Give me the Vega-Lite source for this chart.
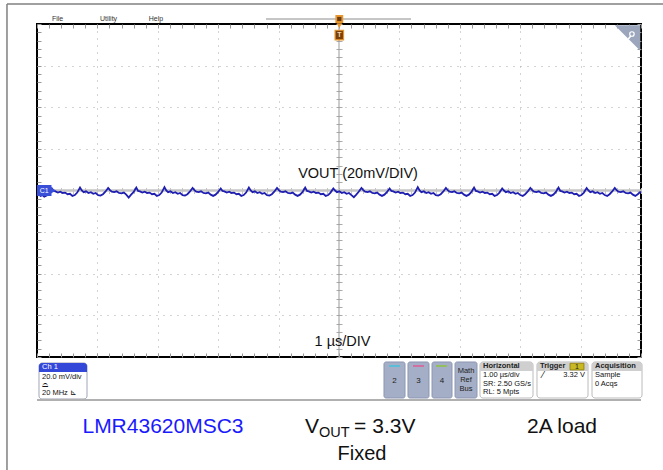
{
"$schema": "https://vega.github.io/schema/vega-lite/v6.json",
"width": 604, "height": 333,
"autosize": {"type": "none"},
"padding": {"left": 37, "top": 24, "right": 22, "bottom": 113},
"background": "white",
"config": {"view": {"stroke": "#000", "strokeWidth": 2}, "text": {"font": "Liberation Sans"}},
"data": {"values": [{}]},
"datasets": {"trace": [
{"t":-5.0,"v":-0.12},{"t":-4.97,"v":-0.09},{"t":-4.94,"v":-0.13},{"t":-4.91,"v":-0.11},{"t":-4.88,"v":-0.15},{"t":-4.84,"v":-0.12},{"t":-4.8,"v":-0.06},
{"t":-4.754,"v":0.05},{"t":-4.724,"v":-0.01},{"t":-4.694,"v":-0.02},{"t":-4.654,"v":-0.05},{"t":-4.614,"v":-0.03},{"t":-4.574,"v":-0.06},{"t":-4.534,"v":-0.05},{"t":-4.494,"v":-0.09},{"t":-4.454,"v":-0.08},{"t":-4.414,"v":-0.13},{"t":-4.374,"v":-0.11},{"t":-4.334,"v":-0.05},
{"t":-4.288,"v":0.07},{"t":-4.258,"v":0.00},{"t":-4.228,"v":-0.04},{"t":-4.188,"v":-0.02},{"t":-4.148,"v":-0.06},{"t":-4.108,"v":-0.04},{"t":-4.068,"v":-0.08},{"t":-4.028,"v":-0.06},{"t":-3.988,"v":-0.11},{"t":-3.948,"v":-0.12},{"t":-3.908,"v":-0.09},{"t":-3.868,"v":-0.03},
{"t":-3.822,"v":0.06},{"t":-3.792,"v":0.01},{"t":-3.762,"v":-0.03},{"t":-3.722,"v":-0.04},{"t":-3.682,"v":-0.02},{"t":-3.642,"v":-0.06},{"t":-3.602,"v":-0.07},{"t":-3.562,"v":-0.05},{"t":-3.522,"v":-0.10},{"t":-3.482,"v":-0.17},{"t":-3.442,"v":-0.10},{"t":-3.402,"v":-0.04},
{"t":-3.356,"v":0.07},{"t":-3.326,"v":-0.01},{"t":-3.296,"v":-0.02},{"t":-3.256,"v":-0.05},{"t":-3.216,"v":-0.03},{"t":-3.176,"v":-0.06},{"t":-3.136,"v":-0.05},{"t":-3.096,"v":-0.09},{"t":-3.056,"v":-0.08},{"t":-3.016,"v":-0.13},{"t":-2.976,"v":-0.11},{"t":-2.936,"v":-0.05},
{"t":-2.89,"v":0.08},{"t":-2.86,"v":0.00},{"t":-2.83,"v":-0.04},{"t":-2.79,"v":-0.02},{"t":-2.75,"v":-0.06},{"t":-2.71,"v":-0.04},{"t":-2.67,"v":-0.08},{"t":-2.63,"v":-0.06},{"t":-2.59,"v":-0.11},{"t":-2.55,"v":-0.12},{"t":-2.51,"v":-0.09},{"t":-2.47,"v":-0.03},
{"t":-2.424,"v":0.06},{"t":-2.394,"v":0.01},{"t":-2.364,"v":-0.03},{"t":-2.324,"v":-0.04},{"t":-2.284,"v":-0.02},{"t":-2.244,"v":-0.06},{"t":-2.204,"v":-0.07},{"t":-2.164,"v":-0.05},{"t":-2.124,"v":-0.10},{"t":-2.084,"v":-0.13},{"t":-2.044,"v":-0.10},{"t":-2.004,"v":-0.04},
{"t":-1.958,"v":0.05},{"t":-1.928,"v":-0.01},{"t":-1.898,"v":-0.02},{"t":-1.858,"v":-0.05},{"t":-1.818,"v":-0.03},{"t":-1.778,"v":-0.06},{"t":-1.738,"v":-0.05},{"t":-1.698,"v":-0.09},{"t":-1.658,"v":-0.08},{"t":-1.618,"v":-0.13},{"t":-1.578,"v":-0.11},{"t":-1.538,"v":-0.05},
{"t":-1.492,"v":0.07},{"t":-1.462,"v":0.00},{"t":-1.432,"v":-0.04},{"t":-1.392,"v":-0.02},{"t":-1.352,"v":-0.06},{"t":-1.312,"v":-0.04},{"t":-1.272,"v":-0.08},{"t":-1.232,"v":-0.06},{"t":-1.192,"v":-0.11},{"t":-1.152,"v":-0.12},{"t":-1.112,"v":-0.09},{"t":-1.072,"v":-0.03},
{"t":-1.026,"v":0.06},{"t":-0.996,"v":0.01},{"t":-0.966,"v":-0.03},{"t":-0.926,"v":-0.04},{"t":-0.886,"v":-0.02},{"t":-0.846,"v":-0.06},{"t":-0.806,"v":-0.07},{"t":-0.766,"v":-0.05},{"t":-0.726,"v":-0.10},{"t":-0.686,"v":-0.13},{"t":-0.646,"v":-0.10},{"t":-0.606,"v":-0.04},
{"t":-0.56,"v":0.07},{"t":-0.53,"v":-0.01},{"t":-0.5,"v":-0.02},{"t":-0.46,"v":-0.05},{"t":-0.42,"v":-0.03},{"t":-0.38,"v":-0.06},{"t":-0.34,"v":-0.05},{"t":-0.3,"v":-0.09},{"t":-0.26,"v":-0.08},{"t":-0.22,"v":-0.13},{"t":-0.18,"v":-0.11},{"t":-0.14,"v":-0.05},
{"t":-0.094,"v":0.05},{"t":-0.064,"v":0.00},{"t":-0.034,"v":-0.04},{"t":0.006,"v":-0.02},{"t":0.046,"v":-0.06},{"t":0.086,"v":-0.04},{"t":0.126,"v":-0.08},{"t":0.166,"v":-0.06},{"t":0.206,"v":-0.11},{"t":0.246,"v":-0.16},{"t":0.286,"v":-0.10},{"t":0.326,"v":-0.03},
{"t":0.372,"v":0.06},{"t":0.402,"v":0.01},{"t":0.432,"v":-0.03},{"t":0.472,"v":-0.04},{"t":0.512,"v":-0.02},{"t":0.552,"v":-0.06},{"t":0.592,"v":-0.07},{"t":0.632,"v":-0.05},{"t":0.672,"v":-0.10},{"t":0.712,"v":-0.13},{"t":0.752,"v":-0.10},{"t":0.792,"v":-0.04},
{"t":0.838,"v":0.05},{"t":0.868,"v":-0.01},{"t":0.898,"v":-0.02},{"t":0.938,"v":-0.05},{"t":0.978,"v":-0.03},{"t":1.018,"v":-0.06},{"t":1.058,"v":-0.05},{"t":1.098,"v":-0.09},{"t":1.138,"v":-0.08},{"t":1.178,"v":-0.13},{"t":1.218,"v":-0.11},{"t":1.258,"v":-0.05},
{"t":1.304,"v":0.08},{"t":1.334,"v":0.00},{"t":1.364,"v":-0.04},{"t":1.404,"v":-0.02},{"t":1.444,"v":-0.06},{"t":1.484,"v":-0.04},{"t":1.524,"v":-0.08},{"t":1.564,"v":-0.06},{"t":1.604,"v":-0.11},{"t":1.644,"v":-0.12},{"t":1.684,"v":-0.09},{"t":1.724,"v":-0.03},
{"t":1.77,"v":0.06},{"t":1.8,"v":0.01},{"t":1.83,"v":-0.03},{"t":1.87,"v":-0.04},{"t":1.91,"v":-0.02},{"t":1.95,"v":-0.06},{"t":1.99,"v":-0.07},{"t":2.03,"v":-0.05},{"t":2.07,"v":-0.10},{"t":2.11,"v":-0.13},{"t":2.15,"v":-0.10},{"t":2.19,"v":-0.04},
{"t":2.236,"v":0.07},{"t":2.266,"v":-0.01},{"t":2.296,"v":-0.02},{"t":2.336,"v":-0.05},{"t":2.376,"v":-0.03},{"t":2.416,"v":-0.06},{"t":2.456,"v":-0.05},{"t":2.496,"v":-0.09},{"t":2.536,"v":-0.08},{"t":2.576,"v":-0.13},{"t":2.616,"v":-0.11},{"t":2.656,"v":-0.05},
{"t":2.702,"v":0.05},{"t":2.732,"v":0.00},{"t":2.762,"v":-0.04},{"t":2.802,"v":-0.02},{"t":2.842,"v":-0.06},{"t":2.882,"v":-0.04},{"t":2.922,"v":-0.08},{"t":2.962,"v":-0.06},{"t":3.002,"v":-0.11},{"t":3.042,"v":-0.13},{"t":3.082,"v":-0.09},{"t":3.122,"v":-0.03},
{"t":3.168,"v":0.06},{"t":3.198,"v":0.01},{"t":3.228,"v":-0.03},{"t":3.268,"v":-0.04},{"t":3.308,"v":-0.02},{"t":3.348,"v":-0.06},{"t":3.388,"v":-0.07},{"t":3.428,"v":-0.05},{"t":3.468,"v":-0.10},{"t":3.508,"v":-0.13},{"t":3.548,"v":-0.10},{"t":3.588,"v":-0.04},
{"t":3.634,"v":0.07},{"t":3.664,"v":-0.01},{"t":3.694,"v":-0.02},{"t":3.734,"v":-0.05},{"t":3.774,"v":-0.03},{"t":3.814,"v":-0.06},{"t":3.854,"v":-0.05},{"t":3.894,"v":-0.09},{"t":3.934,"v":-0.08},{"t":3.974,"v":-0.13},{"t":4.014,"v":-0.11},{"t":4.054,"v":-0.05},
{"t":4.1,"v":0.06},{"t":4.13,"v":0.00},{"t":4.16,"v":-0.04},{"t":4.2,"v":-0.02},{"t":4.24,"v":-0.06},{"t":4.28,"v":-0.04},{"t":4.32,"v":-0.08},{"t":4.36,"v":-0.06},{"t":4.4,"v":-0.11},{"t":4.44,"v":-0.13},{"t":4.48,"v":-0.09},{"t":4.52,"v":-0.03},
{"t":4.566,"v":0.06},{"t":4.596,"v":0.01},{"t":4.626,"v":-0.03},{"t":4.666,"v":-0.04},{"t":4.706,"v":-0.02},{"t":4.746,"v":-0.06},{"t":4.786,"v":-0.07},{"t":4.826,"v":-0.05},{"t":4.866,"v":-0.10},{"t":4.906,"v":-0.13},{"t":4.946,"v":-0.09},{"t":4.976,"v":-0.05},{"t":5.0,"v":-0.03}
]},
"resolve": {"axis": {"x": "independent", "y": "independent"}},
"layer": [
{"mark": {"type": "rule", "color": "#808080", "strokeWidth": 1.5}, "encoding": {"x": {"datum": -5.497, "type": "quantitative", "axis": null}, "y": {"datum": 4.48, "type": "quantitative", "axis": null}, "y2": {"datum": -6.72}}},
{"mark": {"type": "rule", "color": "#808080", "strokeWidth": 1.5}, "encoding": {"x": {"datum": -5.497, "type": "quantitative", "axis": null}, "x2": {"datum": 5.37}, "y": {"datum": 4.48, "type": "quantitative", "axis": null}}},

{"mark": {"type": "rule", "color": "#999999", "strokeWidth": 1},
 "encoding": {
  "x": {"datum": 0, "type": "quantitative", "scale": {"domain": [-5, 5], "nice": false, "zero": false},
        "axis": {"orient": "top", "values": [-5,-4.8,-4.6,-4.4,-4.2,-4,-3.8,-3.6,-3.4,-3.2,-3,-2.8,-2.6,-2.4,-2.2,-2,-1.8,-1.6,-1.4,-1.2,-1,-0.8,-0.6,-0.4,-0.2,0,0.2,0.4,0.6,0.8,1,1.2,1.4,1.6,1.8,2,2.2,2.4,2.6,2.8,3,3.2,3.4,3.6,3.8,4,4.2,4.4,4.6,4.8,5], "grid": false, "ticks": true, "tickSize": -4, "tickColor": "#999", "labels": false, "domain": false, "title": null}},
  "y": {"datum": -4, "type": "quantitative", "scale": {"domain": [-4, 4], "nice": false, "zero": false},
        "axis": {"orient": "right", "values": [-4,-3.8,-3.6,-3.4,-3.2,-3,-2.8,-2.6,-2.4,-2.2,-2,-1.8,-1.6,-1.4,-1.2,-1,-0.8,-0.6,-0.4,-0.2,0,0.2,0.4,0.6,0.8,1,1.2,1.4,1.6,1.8,2,2.2,2.4,2.6,2.8,3,3.2,3.4,3.6,3.8,4], "grid": false, "ticks": true, "tickSize": -4, "tickColor": "#999", "labels": false, "domain": false, "title": null}},
  "y2": {"datum": 4}}},

{"mark": {"type": "rule", "color": "#c4c4c4", "strokeWidth": 2.5},
 "encoding": {
  "x": {"datum": -5, "type": "quantitative", "scale": {"domain": [-5, 5], "nice": false, "zero": false},
        "axis": {"orient": "bottom", "offset": -169.5, "values": [-5,-4.8,-4.6,-4.4,-4.2,-4,-3.8,-3.6,-3.4,-3.2,-3,-2.8,-2.6,-2.4,-2.2,-2,-1.8,-1.6,-1.4,-1.2,-1,-0.8,-0.6,-0.4,-0.2,0,0.2,0.4,0.6,0.8,1,1.2,1.4,1.6,1.8,2,2.2,2.4,2.6,2.8,3,3.2,3.4,3.6,3.8,4,4.2,4.4,4.6,4.8,5], "grid": false, "ticks": true, "tickSize": 6, "tickColor": "#c4c4c4", "labels": false, "domain": false, "title": null}},
  "x2": {"datum": 5},
  "y": {"datum": 0, "type": "quantitative", "scale": {"domain": [-4, 4], "nice": false, "zero": false},
        "axis": {"orient": "left", "offset": -305, "values": [-4,-3.8,-3.6,-3.4,-3.2,-3,-2.8,-2.6,-2.4,-2.2,-2,-1.8,-1.6,-1.4,-1.2,-1,-0.8,-0.6,-0.4,-0.2,0,0.2,0.4,0.6,0.8,1,1.2,1.4,1.6,1.8,2,2.2,2.4,2.6,2.8,3,3.2,3.4,3.6,3.8,4], "grid": false, "ticks": true, "tickSize": 6, "tickColor": "#aaa", "labels": false, "domain": false, "title": null}}}},

{"data": {"name": "trace"},
 "mark": {"type": "line", "color": "#1e1eb0", "strokeWidth": 1.8, "interpolate": "linear"},
 "encoding": {
  "x": {"field": "t", "type": "quantitative", "scale": {"domain": [-5, 5], "nice": false, "zero": false},
        "axis": {"orient": "bottom", "values": [-5,-4.8,-4.6,-4.4,-4.2,-4,-3.8,-3.6,-3.4,-3.2,-3,-2.8,-2.6,-2.4,-2.2,-2,-1.8,-1.6,-1.4,-1.2,-1,-0.8,-0.6,-0.4,-0.2,0,0.2,0.4,0.6,0.8,1,1.2,1.4,1.6,1.8,2,2.2,2.4,2.6,2.8,3,3.2,3.4,3.6,3.8,4,4.2,4.4,4.6,4.8,5], "grid": true, "gridDash": [1, 6], "gridColor": "#a8a8a8", "gridOpacity": {"condition": {"test": "abs(datum.value - round(datum.value)) > 0.01 || abs(datum.value) > 4.99 || abs(datum.value) < 0.01", "value": 0}, "value": 1}, "ticks": true, "tickSize": -4, "tickColor": "#999", "labels": false, "domain": false, "title": null}},
  "y": {"field": "v", "type": "quantitative", "scale": {"domain": [-4, 4], "nice": false, "zero": false},
        "axis": {"orient": "left", "values": [-4,-3.8,-3.6,-3.4,-3.2,-3,-2.8,-2.6,-2.4,-2.2,-2,-1.8,-1.6,-1.4,-1.2,-1,-0.8,-0.6,-0.4,-0.2,0,0.2,0.4,0.6,0.8,1,1.2,1.4,1.6,1.8,2,2.2,2.4,2.6,2.8,3,3.2,3.4,3.6,3.8,4], "grid": true, "gridDash": [1, 6], "gridColor": "#a8a8a8", "gridOpacity": {"condition": {"test": "abs(datum.value - round(datum.value)) > 0.01 || abs(datum.value) > 3.99 || abs(datum.value) < 0.01", "value": 0}, "value": 1}, "ticks": true, "tickSize": -4, "tickColor": "#999", "labels": false, "domain": false, "title": null}}}},

{"mark": {"type": "text", "text": "File", "fontSize": 7, "align": "left", "baseline": "middle", "color": "#333"}, "encoding": {"x": {"datum": -4.752, "type": "quantitative", "axis": null}, "y": {"datum": 4.13, "type": "quantitative", "axis": null}}},
{"mark": {"type": "text", "text": "Utility", "fontSize": 7, "align": "left", "baseline": "middle", "color": "#333"}, "encoding": {"x": {"datum": -3.957, "type": "quantitative", "axis": null}, "y": {"datum": 4.13, "type": "quantitative", "axis": null}}},
{"mark": {"type": "text", "text": "Help", "fontSize": 7, "align": "left", "baseline": "middle", "color": "#333"}, "encoding": {"x": {"datum": -3.15, "type": "quantitative", "axis": null}, "y": {"datum": 4.13, "type": "quantitative", "axis": null}}},
{"mark": {"type": "rule", "color": "#8c8c8c", "strokeWidth": 1}, "encoding": {"x": {"datum": -1.209, "type": "quantitative", "axis": null}, "x2": {"datum": 1.192}, "y": {"datum": 4.12, "type": "quantitative", "axis": null}}},

{"mark": {"type": "rect", "color": "#e8962e"}, "encoding": {"x": {"datum": -0.06, "type": "quantitative", "axis": null}, "x2": {"datum": 0.07}, "y": {"datum": 4.216, "type": "quantitative", "axis": null}, "y2": {"datum": 4.024}}},
{"mark": {"type": "rect", "color": "#6b3a10"}, "encoding": {"x": {"datum": -0.03, "type": "quantitative", "axis": null}, "x2": {"datum": 0.04}, "y": {"datum": 4.17, "type": "quantitative", "axis": null}, "y2": {"datum": 4.07}}},
{"mark": {"type": "point", "shape": "triangle-down", "filled": true, "color": "#e8962e", "size": 30, "opacity": 1}, "encoding": {"x": {"datum": 0.005, "type": "quantitative", "axis": null}, "y": {"datum": 3.96, "type": "quantitative", "axis": null}}},
{"mark": {"type": "rect", "fill": "#7a3f0a", "stroke": "#e8962e", "strokeWidth": 1.2}, "encoding": {"x": {"datum": -0.065, "type": "quantitative", "axis": null}, "x2": {"datum": 0.075}, "y": {"datum": 3.85, "type": "quantitative", "axis": null}, "y2": {"datum": 3.62}}},
{"mark": {"type": "text", "text": "T", "fontSize": 7, "fontWeight": "bold", "align": "center", "baseline": "middle", "color": "#f3d9b0"}, "encoding": {"x": {"datum": 0.005, "type": "quantitative", "axis": null}, "y": {"datum": 3.735, "type": "quantitative", "axis": null}}},

{"mark": {"type": "point", "shape": "M-1,-1L1,-1L1,1Z", "filled": true, "color": "#9ba6bd", "size": 650, "opacity": 1}, "encoding": {"x": {"datum": 4.777, "type": "quantitative", "axis": null}, "y": {"datum": 3.664, "type": "quantitative", "axis": null}}},
{"mark": {"type": "point", "shape": "circle", "filled": false, "color": "white", "strokeWidth": 1.2, "size": 20, "opacity": 1}, "encoding": {"x": {"datum": 4.85, "type": "quantitative", "axis": null}, "y": {"datum": 3.76, "type": "quantitative", "axis": null}}},
{"mark": {"type": "rule", "color": "white", "strokeWidth": 1.5}, "encoding": {"x": {"datum": 4.83, "type": "quantitative", "axis": null}, "x2": {"datum": 4.79}, "y": {"datum": 3.71, "type": "quantitative", "axis": null}, "y2": {"datum": 3.64}}},

{"mark": {"type": "rect", "color": "#3a4fd8"}, "encoding": {"x": {"datum": -5, "type": "quantitative", "axis": null}, "x2": {"datum": -4.76}, "y": {"datum": 0.132, "type": "quantitative", "axis": null}, "y2": {"datum": -0.132}}},
{"mark": {"type": "point", "shape": "triangle-right", "filled": true, "color": "#3a4fd8", "size": 40, "opacity": 1}, "encoding": {"x": {"datum": -4.73, "type": "quantitative", "axis": null}, "y": {"datum": 0, "type": "quantitative", "axis": null}}},
{"mark": {"type": "text", "text": "C1", "fontSize": 7, "align": "center", "baseline": "middle", "color": "white"}, "encoding": {"x": {"datum": -4.88, "type": "quantitative", "axis": null}, "y": {"datum": 0, "type": "quantitative", "axis": null}}},

{"mark": {"type": "text", "text": "VOUT (20mV/DIV)", "fontSize": 14.5, "align": "center", "baseline": "alphabetic", "color": "#111"}, "encoding": {"x": {"datum": 0.315, "type": "quantitative", "axis": null}, "y": {"datum": 0.30, "type": "quantitative", "axis": null}}},
{"mark": {"type": "text", "text": "1 µs/DIV", "fontSize": 14.5, "align": "center", "baseline": "alphabetic", "color": "#111"}, "encoding": {"x": {"datum": 0.058, "type": "quantitative", "axis": null}, "y": {"datum": -3.736, "type": "quantitative", "axis": null}}},

{"mark": {"type": "rect", "fill": "white", "stroke": "#a0a6b8", "cornerRadius": 3}, "encoding": {"x": {"datum": -4.967, "type": "quantitative", "axis": null}, "x2": {"datum": -4.172}, "y": {"datum": -4.144, "type": "quantitative", "axis": null}, "y2": {"datum": -5.009}}},
{"mark": {"type": "rect", "fill": "#3348d8", "cornerRadiusTopLeft": 3, "cornerRadiusTopRight": 3}, "encoding": {"x": {"datum": -4.967, "type": "quantitative", "axis": null}, "x2": {"datum": -4.172}, "y": {"datum": -4.144, "type": "quantitative", "axis": null}, "y2": {"datum": -4.36}}},
{"mark": {"type": "text", "text": "Ch 1", "fontSize": 7.5, "align": "left", "baseline": "middle", "color": "white"}, "encoding": {"x": {"datum": -4.917, "type": "quantitative", "axis": null}, "y": {"datum": -4.252, "type": "quantitative", "axis": null}}},
{"mark": {"type": "text", "text": "20.0 mV/div", "fontSize": 7.5, "align": "left", "baseline": "middle", "color": "#111"}, "encoding": {"x": {"datum": -4.917, "type": "quantitative", "axis": null}, "y": {"datum": -4.48, "type": "quantitative", "axis": null}}},
{"mark": {"type": "text", "text": "⌓", "fontSize": 7.5, "font": "DejaVu Sans", "align": "left", "baseline": "middle", "color": "#111"}, "encoding": {"x": {"datum": -4.917, "type": "quantitative", "axis": null}, "y": {"datum": -4.673, "type": "quantitative", "axis": null}}},
{"mark": {"type": "text", "text": "20 MHz ⊾", "fontSize": 7.5, "align": "left", "baseline": "middle", "color": "#111"}, "encoding": {"x": {"datum": -4.917, "type": "quantitative", "axis": null}, "y": {"datum": -4.865, "type": "quantitative", "axis": null}}},

{"mark": {"type": "rect", "fill": "#a4aec6", "stroke": "#8d97b3", "cornerRadius": 2}, "encoding": {"x": {"datum": 0.745, "type": "quantitative", "axis": null}, "x2": {"datum": 1.093}, "y": {"datum": -4.12, "type": "quantitative", "axis": null}, "y2": {"datum": -4.985}}},
{"mark": {"type": "rect", "fill": "#a4aec6", "stroke": "#8d97b3", "cornerRadius": 2}, "encoding": {"x": {"datum": 1.142, "type": "quantitative", "axis": null}, "x2": {"datum": 1.49}, "y": {"datum": -4.12, "type": "quantitative", "axis": null}, "y2": {"datum": -4.985}}},
{"mark": {"type": "rect", "fill": "#a4aec6", "stroke": "#8d97b3", "cornerRadius": 2}, "encoding": {"x": {"datum": 1.54, "type": "quantitative", "axis": null}, "x2": {"datum": 1.871}, "y": {"datum": -4.12, "type": "quantitative", "axis": null}, "y2": {"datum": -4.985}}},
{"mark": {"type": "rect", "fill": "#a4aec6", "stroke": "#8d97b3", "cornerRadius": 2}, "encoding": {"x": {"datum": 1.921, "type": "quantitative", "axis": null}, "x2": {"datum": 2.285}, "y": {"datum": -4.12, "type": "quantitative", "axis": null}, "y2": {"datum": -4.985}}},
{"mark": {"type": "rule", "color": "#41c4dc", "strokeWidth": 1.5}, "encoding": {"x": {"datum": 0.828, "type": "quantitative", "axis": null}, "x2": {"datum": 1.01}, "y": {"datum": -4.216, "type": "quantitative", "axis": null}}},
{"mark": {"type": "rule", "color": "#e05c96", "strokeWidth": 1.5}, "encoding": {"x": {"datum": 1.225, "type": "quantitative", "axis": null}, "x2": {"datum": 1.407}, "y": {"datum": -4.216, "type": "quantitative", "axis": null}}},
{"mark": {"type": "rule", "color": "#8cc43c", "strokeWidth": 1.5}, "encoding": {"x": {"datum": 1.606, "type": "quantitative", "axis": null}, "x2": {"datum": 1.788}, "y": {"datum": -4.216, "type": "quantitative", "axis": null}}},
{"mark": {"type": "text", "text": "2", "fontSize": 8, "align": "center", "baseline": "middle", "color": "#222"}, "encoding": {"x": {"datum": 0.919, "type": "quantitative", "axis": null}, "y": {"datum": -4.577, "type": "quantitative", "axis": null}}},
{"mark": {"type": "text", "text": "3", "fontSize": 8, "align": "center", "baseline": "middle", "color": "#222"}, "encoding": {"x": {"datum": 1.316, "type": "quantitative", "axis": null}, "y": {"datum": -4.577, "type": "quantitative", "axis": null}}},
{"mark": {"type": "text", "text": "4", "fontSize": 8, "align": "center", "baseline": "middle", "color": "#222"}, "encoding": {"x": {"datum": 1.705, "type": "quantitative", "axis": null}, "y": {"datum": -4.577, "type": "quantitative", "axis": null}}},
{"mark": {"type": "text", "text": "Math", "fontSize": 7.5, "align": "center", "baseline": "middle", "color": "#222"}, "encoding": {"x": {"datum": 2.103, "type": "quantitative", "axis": null}, "y": {"datum": -4.336, "type": "quantitative", "axis": null}}},
{"mark": {"type": "text", "text": "Ref", "fontSize": 7.5, "align": "center", "baseline": "middle", "color": "#222"}, "encoding": {"x": {"datum": 2.103, "type": "quantitative", "axis": null}, "y": {"datum": -4.553, "type": "quantitative", "axis": null}}},
{"mark": {"type": "text", "text": "Bus", "fontSize": 7.5, "align": "center", "baseline": "middle", "color": "#222"}, "encoding": {"x": {"datum": 2.103, "type": "quantitative", "axis": null}, "y": {"datum": -4.769, "type": "quantitative", "axis": null}}},

{"mark": {"type": "rect", "fill": "white", "stroke": "#bbbbbb", "cornerRadius": 3}, "encoding": {"x": {"datum": 2.334, "type": "quantitative", "axis": null}, "x2": {"datum": 3.212}, "y": {"datum": -4.12, "type": "quantitative", "axis": null}, "y2": {"datum": -4.985}}},
{"mark": {"type": "rect", "fill": "#cfcfcf", "cornerRadiusTopLeft": 3, "cornerRadiusTopRight": 3}, "encoding": {"x": {"datum": 2.334, "type": "quantitative", "axis": null}, "x2": {"datum": 3.212}, "y": {"datum": -4.12, "type": "quantitative", "axis": null}, "y2": {"datum": -4.336}}},
{"mark": {"type": "text", "text": "Horizontal", "fontSize": 7.5, "fontWeight": "bold", "align": "left", "baseline": "middle", "color": "#222"}, "encoding": {"x": {"datum": 2.384, "type": "quantitative", "axis": null}, "y": {"datum": -4.228, "type": "quantitative", "axis": null}}},
{"mark": {"type": "text", "text": "1.00 µs/div", "fontSize": 7.5, "align": "left", "baseline": "middle", "color": "#111"}, "encoding": {"x": {"datum": 2.384, "type": "quantitative", "axis": null}, "y": {"datum": -4.444, "type": "quantitative", "axis": null}}},
{"mark": {"type": "text", "text": "SR: 2.50 GS/s", "fontSize": 7.5, "align": "left", "baseline": "middle", "color": "#111"}, "encoding": {"x": {"datum": 2.384, "type": "quantitative", "axis": null}, "y": {"datum": -4.637, "type": "quantitative", "axis": null}}},
{"mark": {"type": "text", "text": "RL: 5 Mpts", "fontSize": 7.5, "align": "left", "baseline": "middle", "color": "#111"}, "encoding": {"x": {"datum": 2.384, "type": "quantitative", "axis": null}, "y": {"datum": -4.841, "type": "quantitative", "axis": null}}},

{"mark": {"type": "rect", "fill": "white", "stroke": "#bbbbbb", "cornerRadius": 3}, "encoding": {"x": {"datum": 3.278, "type": "quantitative", "axis": null}, "x2": {"datum": 4.123}, "y": {"datum": -4.12, "type": "quantitative", "axis": null}, "y2": {"datum": -4.985}}},
{"mark": {"type": "rect", "fill": "#cfcfcf", "cornerRadiusTopLeft": 3, "cornerRadiusTopRight": 3}, "encoding": {"x": {"datum": 3.278, "type": "quantitative", "axis": null}, "x2": {"datum": 4.123}, "y": {"datum": -4.12, "type": "quantitative", "axis": null}, "y2": {"datum": -4.336}}},
{"mark": {"type": "text", "text": "Trigger", "fontSize": 7.5, "fontWeight": "bold", "align": "left", "baseline": "middle", "color": "#222"}, "encoding": {"x": {"datum": 3.328, "type": "quantitative", "axis": null}, "y": {"datum": -4.228, "type": "quantitative", "axis": null}}},
{"mark": {"type": "rect", "fill": "#c7b824", "stroke": "#8a7a00", "strokeWidth": 0.8}, "encoding": {"x": {"datum": 3.825, "type": "quantitative", "axis": null}, "x2": {"datum": 4.056}, "y": {"datum": -4.15, "type": "quantitative", "axis": null}, "y2": {"datum": -4.31}}},
{"mark": {"type": "text", "text": "1", "fontSize": 7, "align": "center", "baseline": "middle", "color": "#222"}, "encoding": {"x": {"datum": 3.94, "type": "quantitative", "axis": null}, "y": {"datum": -4.232, "type": "quantitative", "axis": null}}},
{"mark": {"type": "text", "text": "⁄", "fontSize": 9, "font": "DejaVu Sans", "align": "left", "baseline": "middle", "color": "#111"}, "encoding": {"x": {"datum": 3.36, "type": "quantitative", "axis": null}, "y": {"datum": -4.444, "type": "quantitative", "axis": null}}},
{"mark": {"type": "text", "text": "3.32 V", "fontSize": 7.5, "align": "right", "baseline": "middle", "color": "#111"}, "encoding": {"x": {"datum": 4.073, "type": "quantitative", "axis": null}, "y": {"datum": -4.444, "type": "quantitative", "axis": null}}},

{"mark": {"type": "rect", "fill": "white", "stroke": "#bbbbbb", "cornerRadius": 3}, "encoding": {"x": {"datum": 4.189, "type": "quantitative", "axis": null}, "x2": {"datum": 5.017}, "y": {"datum": -4.12, "type": "quantitative", "axis": null}, "y2": {"datum": -4.985}}},
{"mark": {"type": "rect", "fill": "#cfcfcf", "cornerRadiusTopLeft": 3, "cornerRadiusTopRight": 3}, "encoding": {"x": {"datum": 4.189, "type": "quantitative", "axis": null}, "x2": {"datum": 5.017}, "y": {"datum": -4.12, "type": "quantitative", "axis": null}, "y2": {"datum": -4.336}}},
{"mark": {"type": "text", "text": "Acquisition", "fontSize": 7.5, "fontWeight": "bold", "align": "left", "baseline": "middle", "color": "#222"}, "encoding": {"x": {"datum": 4.238, "type": "quantitative", "axis": null}, "y": {"datum": -4.228, "type": "quantitative", "axis": null}}},
{"mark": {"type": "text", "text": "Sample", "fontSize": 7.5, "align": "left", "baseline": "middle", "color": "#111"}, "encoding": {"x": {"datum": 4.238, "type": "quantitative", "axis": null}, "y": {"datum": -4.444, "type": "quantitative", "axis": null}}},
{"mark": {"type": "text", "text": "0 Acqs", "fontSize": 7.5, "align": "left", "baseline": "middle", "color": "#111"}, "encoding": {"x": {"datum": 4.238, "type": "quantitative", "axis": null}, "y": {"datum": -4.637, "type": "quantitative", "axis": null}}},

{"mark": {"type": "rule", "color": "#b0b0b0", "strokeWidth": 2}, "encoding": {"x": {"datum": -5, "type": "quantitative", "axis": null}, "x2": {"datum": 5}, "y": {"datum": -5.033, "type": "quantitative", "axis": null}}},

{"mark": {"type": "text", "text": "LMR43620MSC3", "fontSize": 21, "align": "center", "baseline": "alphabetic", "color": "#1a1aff"}, "encoding": {"x": {"datum": -2.914, "type": "quantitative", "axis": null}, "y": {"datum": -5.826, "type": "quantitative", "axis": null}}},
{"mark": {"type": "text", "text": "V", "fontSize": 21, "align": "left", "baseline": "alphabetic", "color": "#111"}, "encoding": {"x": {"datum": -0.563, "type": "quantitative", "axis": null}, "y": {"datum": -5.826, "type": "quantitative", "axis": null}}},
{"mark": {"type": "text", "text": "OUT", "fontSize": 14.5, "align": "left", "baseline": "alphabetic", "color": "#111"}, "encoding": {"x": {"datum": -0.33, "type": "quantitative", "axis": null}, "y": {"datum": -5.93, "type": "quantitative", "axis": null}}},
{"mark": {"type": "text", "text": "= 3.3V", "fontSize": 21, "align": "left", "baseline": "alphabetic", "color": "#111"}, "encoding": {"x": {"datum": 0.25, "type": "quantitative", "axis": null}, "y": {"datum": -5.826, "type": "quantitative", "axis": null}}},
{"mark": {"type": "text", "text": "Fixed", "fontSize": 20, "align": "center", "baseline": "alphabetic", "color": "#111"}, "encoding": {"x": {"datum": 0.381, "type": "quantitative", "axis": null}, "y": {"datum": -6.475, "type": "quantitative", "axis": null}}},
{"mark": {"type": "text", "text": "2A load", "fontSize": 21, "align": "center", "baseline": "alphabetic", "color": "#111"}, "encoding": {"x": {"datum": 3.692, "type": "quantitative", "axis": null}, "y": {"datum": -5.826, "type": "quantitative", "axis": null}}}
]
}
